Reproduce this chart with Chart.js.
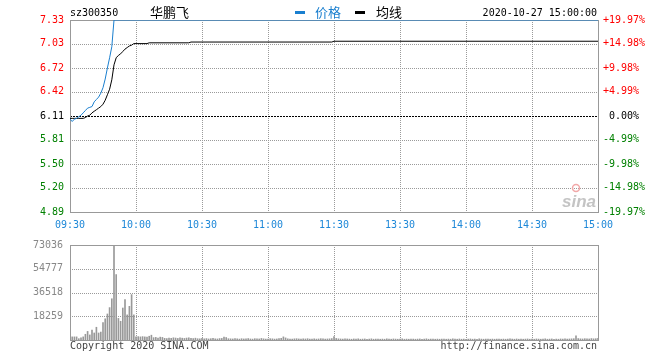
<!DOCTYPE html>
<html>
<head>
<meta charset="utf-8">
<script src="https://cdn.jsdelivr.net/npm/chart.js@4"></script>
<style>
body{margin:0;background:#fff;}
#wrap{position:relative;width:660px;height:360px;overflow:hidden;font-family:"DejaVu Sans Mono",monospace;font-size:10px;}
.txt{position:absolute;white-space:pre;line-height:14px;}
.cjk{font-family:"Noto Sans CJK SC",sans-serif;font-size:13px;}
.dash{position:absolute;width:10px;height:3px;}
#priceChart{position:absolute;left:0;top:0;}
#volChart{position:absolute;left:0;top:232px;}
</style>
</head>
<body>
<div id="wrap">
  <canvas id="priceChart" width="660" height="235"></canvas>
  <canvas id="volChart" width="660" height="128"></canvas>

  <div class="txt" style="left:70px;top:6px;color:#000;">sz300350</div>
  <div class="txt cjk" style="left:150px;top:5px;color:#000;">华鹏飞</div>
  <div class="dash" style="left:295px;top:11px;background:#1a7fcf;"></div>
  <div class="txt cjk" style="left:315px;top:5px;color:#1a7fcf;">价格</div>
  <div class="dash" style="left:355px;top:11px;background:#000;"></div>
  <div class="txt cjk" style="left:376px;top:5px;color:#000;">均线</div>
  <div class="txt" style="right:63px;top:6px;color:#000;">2020-10-27 15:00:00</div>

  <div class="txt" style="left:70px;top:339px;color:#444;">Copyright 2020 SINA.COM</div>
  <div class="txt" style="right:63px;top:339px;color:#444;">http://finance.sina.com.cn</div>
</div>
<script>
// ---------- Data ----------
const timeTicks = [0, 30, 60, 90, 120, 150, 180, 210, 240];
const timeLabels = ["09:30", "10:00", "10:30", "11:00", "11:30", "13:30", "14:00", "14:30", "15:00"];

const prevClose = 6.11;
const priceTicks = [4.89, 5.20, 5.50, 5.81, 6.11, 6.42, 6.72, 7.03, 7.33];
const priceLabels = ["4.89", "5.20", "5.50", "5.81", "6.11", "6.42", "6.72", "7.03", "7.33"];
const pctLabels = ["-19.97%", "-14.98%", "-9.98%", "-4.99%", " 0.00%", "+4.99%", "+9.98%", "+14.98%", "+19.97%"];

// minute index (0 = 09:30, 240 = 15:00) and price
const priceTimes = [0, 1, 2, 3, 4, 5, 6, 7, 8, 9, 10, 11, 12, 13, 14, 15, 16, 17, 18, 19, 20, 240];
const priceValues = [6.07, 6.04, 6.07, 6.08, 6.10, 6.12, 6.15, 6.18, 6.21, 6.22, 6.23, 6.29, 6.32, 6.35, 6.40,
                     6.47, 6.58, 6.72, 6.85, 6.99, 7.33, 7.33];

const avgTimes = [0, 1, 2, 3, 4, 5, 6, 7, 8, 9, 10, 11, 12, 13, 14, 15, 16, 17, 18, 19, 20,
                  21, 22, 23, 24, 25, 26, 27, 28, 29, 35, 36, 54, 55, 119, 120, 240];
const avgValues = [6.08, 6.08, 6.08, 6.08, 6.08, 6.08, 6.08, 6.09, 6.11, 6.12, 6.15, 6.17, 6.19, 6.21, 6.23,
                   6.26, 6.31, 6.38, 6.45, 6.57, 6.76, 6.85, 6.88, 6.90, 6.93, 6.96, 6.98, 7.00, 7.01, 7.03,
                   7.03, 7.04, 7.04, 7.05, 7.05, 7.06, 7.06];

const volTicks = [0, 18259, 36518, 54777, 73036];
const volLabels = ["", "18259", "36518", "54777", "73036"];
// one bar per minute, 0..240
const volumeValues = [
  4400, 2400, 2400, 2400, 1000, 1700, 2400, 4400, 6600, 3900,
  7600, 5400, 9800, 5400, 6100, 13400, 16300, 20000, 24900, 31700,
  73036, 50300, 16600, 14400, 24600, 31000, 19300, 25900, 34900, 19300,
  2400, 2600, 2400, 2600, 2400, 2200, 2900, 3700, 1800, 2000,
  1400, 2200, 2000, 1300, 1100, 1500, 1300, 1700, 1500, 1200,
  1600, 1400, 1200, 1500, 1700, 1300, 1100, 1400, 1000, 900,
  1200, 900, 1100, 800, 1000, 1300, 900, 800, 1100, 1200,
  2300, 1900, 1000, 900, 800, 1100, 900, 700, 1000, 800,
  900, 1100, 800, 700, 1000, 900, 800, 1200, 900, 700,
  800, 1000, 900, 700, 800, 1100, 1300, 2400, 1600, 900,
  800, 700, 900, 1000, 800, 700, 900, 800, 1000, 700,
  800, 900, 700, 800, 1000, 900, 700, 800, 900, 1100,
  2600, 1200, 900, 800, 700, 900, 800, 700, 600, 800,
  700, 900, 600, 700, 800, 600, 700, 900, 600, 700,
  800, 600, 700, 600, 900, 700, 600, 800, 700, 600,
  700, 900, 600, 700, 600, 800, 700, 600, 700, 800,
  600, 700, 900, 600, 700, 800, 600, 700, 600, 700,
  800, 600, 700, 600, 900, 700, 600, 800, 600, 700,
  600, 700, 800, 600, 700, 600, 900, 700, 600, 700,
  800, 600, 700, 600, 700, 800, 600, 700, 600, 700,
  900, 700, 600, 800, 600, 700, 600, 700, 800, 600,
  700, 600, 800, 700, 600, 700, 900, 600, 700, 800,
  600, 700, 600, 800, 700, 900, 700, 800, 900, 1000,
  3200, 1100, 900, 800, 1000, 900, 800, 1100, 900, 1000,
  1200
];

// ---------- Styles ----------
const BLUE = "#1a7fcf";
const GRID = "#9a9a9a";
const AXIS = "#999";
const monoFont = { family: "DejaVu Sans Mono", size: 10 };

function levelColor(v) {
    if (Math.abs(v - prevClose) < 0.001) return "#000";
    return v > prevClose ? "#ff0000" : "#008000";
}

function setTicks(list) {
    return function(scale) { scale.ticks = list.map(v => ({ value: v })); };
}

// box + dotted grid, placed with the chart's own scales
const boxGrid = {
    id: "boxGrid",
    beforeDatasetsDraw(chart) {
        const { ctx, chartArea: a, scales } = chart;
        const xs = scales.x, ys = scales.y;
        ctx.save();
        ctx.lineWidth = 1;
        xs.ticks.forEach((t, i) => {
            if (i === 0 || i === xs.ticks.length - 1) return;
            const x = Math.round(xs.getPixelForValue(t.value)) + 0.5;
            ctx.strokeStyle = GRID;
            ctx.setLineDash([1, 1]);
            ctx.beginPath(); ctx.moveTo(x, a.top); ctx.lineTo(x, a.bottom); ctx.stroke();
        });
        ys.ticks.forEach((t, i) => {
            if (i === 0 || i === ys.ticks.length - 1) return;
            const y = Math.round(ys.getPixelForValue(t.value)) + 0.5;
            const isPrev = chart.canvas.id === "priceChart" && Math.abs(t.value - prevClose) < 0.001;
            ctx.strokeStyle = isPrev ? "#000" : GRID;
            ctx.setLineDash(isPrev ? [2, 1] : [1, 1]);
            ctx.beginPath(); ctx.moveTo(a.left, y); ctx.lineTo(a.right, y); ctx.stroke();
        });
        ctx.setLineDash([]);
        ctx.strokeStyle = AXIS;
        ctx.strokeRect(Math.round(a.left) + 0.5, Math.round(a.top) + 0.5,
                       Math.round(a.right - a.left), Math.round(a.bottom - a.top));
        ctx.restore();
    }
};

const sinaMark = {
    id: "sinaMark",
    beforeDatasetsDraw(chart) {
        const { ctx, chartArea: a } = chart;
        ctx.save();
        ctx.font = "italic bold 17px 'Liberation Sans'";
        ctx.fillStyle = "#c4c4c4";
        ctx.textAlign = "right";
        ctx.fillText("sina", a.right - 2, a.bottom - 5);
        ctx.strokeStyle = "#f2a8a8";
        ctx.lineWidth = 1.5;
        ctx.beginPath();
        ctx.arc(a.right - 22, a.bottom - 24, 3.5, 0, Math.PI * 2);
        ctx.stroke();
        ctx.restore();
    }
};

// ---------- Price chart ----------
new Chart(document.getElementById("priceChart"), {
    type: "line",
    data: {
        datasets: [
            {
                label: "价格",
                data: priceTimes.map((t, i) => ({ x: t, y: priceValues[i] })),
                borderColor: BLUE, borderWidth: 1, pointRadius: 0, tension: 0
            },
            {
                label: "均线",
                data: avgTimes.map((t, i) => ({ x: t, y: avgValues[i] })),
                borderColor: "#000", borderWidth: 1, pointRadius: 0, tension: 0
            }
        ]
    },
    options: {
        responsive: false,
        animation: false,
        layout: { padding: { top: 20, left: 0, right: 0, bottom: 0 } },
        plugins: { legend: { display: false }, tooltip: { enabled: false } },
        scales: {
            x: {
                type: "linear", min: 0, max: 240,
                afterBuildTicks: setTicks(timeTicks),
                afterFit: s => { s.height = 23; },
                ticks: { callback: (v, i) => timeLabels[i], color: "#1e88d8", font: monoFont, padding: 7, maxRotation: 0, autoSkip: false },
                grid: { display: false, drawTicks: false },
                border: { color: AXIS }
            },
            y: {
                position: "left", min: 4.89, max: 7.33,
                afterBuildTicks: setTicks(priceTicks),
                afterFit: s => { s.width = 70; },
                ticks: {
                    callback: (v, i) => priceLabels[i],
                    color: ctx => levelColor(ctx.tick.value),
                    font: monoFont, padding: 6
                },
                grid: { display: false, drawTicks: false },
                border: { color: AXIS }
            },
            y2: {
                position: "right", min: 4.89, max: 7.33,
                afterBuildTicks: setTicks(priceTicks),
                afterFit: s => { s.width = 62; },
                ticks: {
                    callback: (v, i) => pctLabels[i],
                    color: ctx => levelColor(ctx.tick.value),
                    font: monoFont, padding: 5
                },
                grid: { display: false, drawTicks: false },
                border: { color: AXIS }
            }
        }
    },
    plugins: [boxGrid, sinaMark]
});

// ---------- Volume chart ----------
new Chart(document.getElementById("volChart"), {
    type: "bar",
    data: {
        datasets: [{
            data: volumeValues.map((v, i) => ({ x: i, y: v })),
            backgroundColor: "#999",
            borderWidth: 0,
            barThickness: 1
        }]
    },
    options: {
        responsive: false,
        animation: false,
        layout: { padding: { top: 9, left: 0, right: 62, bottom: 20 } },
        plugins: { legend: { display: false }, tooltip: { enabled: false } },
        scales: {
            x: {
                type: "linear", min: 0, max: 240, offset: false,
                afterBuildTicks: setTicks(timeTicks),
                afterFit: s => { s.height = 0; },
                ticks: { display: false },
                grid: { display: false, offset: false, drawTicks: false },
                border: { color: AXIS }
            },
            y: {
                min: 0, max: 73036,
                afterBuildTicks: setTicks(volTicks),
                afterFit: s => { s.width = 70; },
                ticks: { callback: (v, i) => volLabels[i], color: "#888", font: monoFont, padding: 7 },
                grid: { display: false, drawTicks: false },
                border: { color: AXIS }
            }
        }
    },
    plugins: [boxGrid]
});
</script>
</body>
</html>
